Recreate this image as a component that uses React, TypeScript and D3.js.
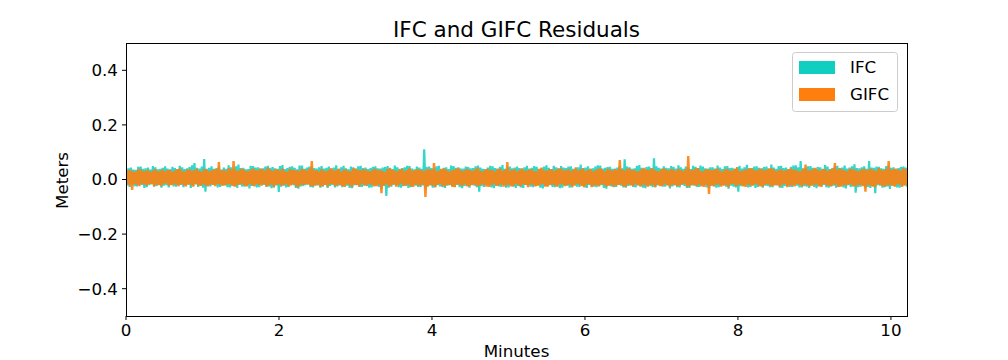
import React from "react";
import * as d3 from "d3";

// Residuals in millimetres, uniformly sampled across the record
const IFC_MM: number[] = [
  38,-22,41,-27,44,-18,36,-24,35,-25,46,-19,47,-20,39,-31,41,-28,44,-21,36,-17,49,-26,45,-24,37,-20,39,-30,43,-23,48,-21,40,-29,37,-19,46,-25,
  42,-26,38,-21,50,-20,45,-28,38,-23,41,-19,46,-31,52,-24,60,-18,43,-27,40,-22,47,-30,75,-45,39,-23,43,-25,48,-20,39,-20,42,-29,47,-27,36,-22,
  44,-21,39,-28,52,-29,45,-20,40,-24,48,-31,55,-19,42,-25,43,-26,37,-22,38,-33,50,-24,49,-22,44,-29,45,-28,40,-19,41,-20,47,-27,50,-25,43,-32,
  46,-30,41,-22,39,-46,49,-26,53,-23,38,-29,42,-27,46,-20,48,-21,43,-31,37,-34,51,-25,51,-24,39,-21,44,-19,47,-28,47,-29,42,-23,40,-22,45,-30,
  49,-26,40,-20,43,-31,47,-24,38,-20,44,-29,52,-25,39,-22,45,-28,50,-26,41,-23,37,-31,47,-32,45,-21,39,-21,48,-27,50,-27,42,-23,44,-24,38,-30,
  42,-29,46,-21,48,-22,41,-27,40,-35,44,-24,46,-60,49,-30,43,-26,38,-20,51,-21,45,-28,39,-30,42,-23,45,-24,50,-31,49,-28,40,-22,37,-23,47,-27,
  44,-27,39,-22,111,-33,46,-25,47,-22,42,-30,41,-29,48,-21,50,-25,37,-28,43,-31,45,-23,38,-21,51,-26,49,-26,43,-20,45,-28,40,-32,40,-24,47,-22,
  46,-30,41,-21,42,-23,48,-28,51,-45,44,-24,39,-27,38,-19,44,-22,50,-29,48,-32,42,-23,40,-25,46,-27,53,-20,39,-30,45,-29,47,-22,41,-26,44,-31,
  47,-24,42,-29,39,-31,45,-20,50,-22,40,-26,43,-28,49,-23,46,-20,38,-30,41,-33,47,-24,52,-25,43,-21,38,-27,50,-28,45,-21,41,-32,49,-30,44,-22,
  42,-23,47,-30,48,-29,39,-21,40,-26,45,-27,55,-22,42,-29,44,-31,48,-20,39,-24,41,-26,47,-28,52,-23,51,-21,40,-31,43,-34,46,-22,46,-25,39,-28,
  40,-27,44,-20,49,-23,41,-29,74,-30,47,-24,45,-22,39,-27,41,-29,50,-21,53,-25,43,-30,38,-32,46,-23,47,-24,42,-28,78,-28,48,-22,43,-21,40,-26,
  48,-26,43,-21,41,-33,49,-25,46,-22,40,-28,52,-29,45,-20,39,-24,47,-31,44,-31,38,-22,50,-23,46,-27,42,-27,51,-24,47,-20,41,-29,40,-30,45,-23,
  45,-25,40,-30,51,-28,44,-21,38,-22,48,-26,49,-34,42,-23,43,-26,39,-29,46,-45,50,-24,40,-23,45,-20,54,-29,41,-27,42,-21,47,-31,48,-27,43,-22,
  41,-30,46,-23,47,-24,40,-28,55,-28,44,-21,39,-22,49,-30,50,-31,42,-24,44,-25,38,-27,46,-27,51,-22,52,-23,45,-29,68,-29,41,-24,43,-26,48,-31,
  49,-21,43,-27,40,-32,46,-24,45,-24,39,-20,53,-28,47,-30,38,-25,42,-23,47,-30,50,-26,42,-22,44,-29,51,-33,40,-21,44,-27,48,-25,56,-48,42,-28,
  41,-26,45,-22,48,-29,39,-27,68,-31,44,-24,43,-50,47,-21,46,-23,41,-30,39,-28,49,-25,50,-35,43,-22,45,-24,38,-29,42,-30,46,-23,47,-22,44,-27,
];

const GIFC_MM: number[] = [
  30,-15,34,-22,33,-38,29,-17,28,-20,37,-24,36,-14,31,-19,31,-22,35,-16,27,-17,33,-25,38,-19,30,-21,32,-24,36,-15,29,-13,34,-23,35,-21,28,-18,
  33,-18,37,-24,40,-16,31,-21,29,-25,35,-18,37,-20,32,-26,34,-15,39,-22,31,-23,28,-17,39,-21,36,-25,30,-18,33,-20,36,-24,38,-16,64,-19,32,-23,
  35,-22,30,-18,42,-17,36,-24,68,-26,33,-20,32,-19,39,-15,38,-23,31,-25,30,-16,35,-21,41,-25,34,-17,33,-20,40,-23,37,-14,32,-26,44,-22,36,-19,
  31,-27,37,-20,36,-18,33,-23,40,-21,30,-16,29,-24,38,-22,35,-15,34,-25,33,-28,31,-19,39,-20,36,-17,32,-17,40,-24,68,-25,33,-21,34,-19,29,-26,
  38,-23,32,-19,30,-26,36,-17,42,-16,33,-24,34,-21,39,-20,29,-24,35,-26,37,-18,30,-22,31,-27,41,-18,40,-20,34,-25,33,-15,37,-21,36,-22,31,-17,
  30,-19,36,-25,39,-24,33,-18,35,-50,31,-22,28,-17,38,-26,41,-23,35,-16,32,-26,30,-21,37,-14,39,-24,30,-21,34,-19,43,-25,32,-27,34,-18,37,-22,
  36,-22,33,-18,31,-64,37,-25,38,-20,34,-23,60,-27,30,-19,33,-16,39,-24,40,-24,35,-20,29,-19,32,-26,35,-28,38,-17,42,-21,33,-23,31,-17,36,-25,
  37,-25,33,-20,32,-18,38,-24,43,-23,31,-17,30,-20,36,-26,39,-27,34,-21,34,-15,29,-23,38,-22,40,-18,31,-26,35,-22,64,-19,32,-25,35,-24,37,-16,
  29,-21,35,-24,41,-17,32,-20,33,-28,37,-18,36,-20,30,-25,30,-23,39,-21,44,-16,34,-26,32,-25,36,-19,38,-19,31,-22,35,-27,40,-17,40,-18,33,-24,
  34,-22,38,-18,30,-26,35,-23,45,-15,32,-20,37,-24,40,-27,31,-19,34,-16,39,-28,30,-22,33,-21,37,-25,42,-17,35,-20,29,-25,39,-23,36,-20,31,-26,
  38,-23,34,-20,71,-18,36,-25,32,-27,39,-17,40,-21,33,-24,35,-16,30,-22,31,-25,38,-19,43,-22,35,-26,34,-19,41,-21,37,-28,32,-18,30,-24,36,-23,
  41,-17,35,-22,33,-26,38,-19,36,-20,31,-24,39,-23,34,-17,31,-15,37,-26,86,-25,33,-20,35,-21,40,-23,42,-18,32,-25,30,-27,36,-19,37,-53,34,-22,
  34,-24,37,-18,40,-19,32,-26,29,-22,36,-20,38,-28,33,-17,33,-16,39,-24,44,-21,31,-19,31,-25,35,-27,36,-18,41,-22,41,-23,34,-16,32,-20,38,-25,
  39,-26,33,-19,35,-17,40,-23,42,-24,36,-21,30,-21,34,-27,37,-19,31,-16,33,-28,38,-22,40,-22,35,-25,36,-16,30,-20,31,-25,39,-18,55,-20,33,-24,
  34,-23,38,-20,43,-18,35,-25,32,-27,37,-16,38,-21,31,-23,35,-24,40,-19,60,-19,34,-27,41,-26,36,-21,33,-22,30,-18,39,-17,37,-24,36,-25,32,-20,
  31,-20,36,-24,40,-45,33,-19,37,-23,39,-26,34,-28,31,-17,42,-19,35,-25,33,-24,38,-21,68,-21,34,-23,38,-26,40,-18,35,-18,32,-27,41,-22,37,-20,
];

const DURATION_MIN = 10.21;
const X_TICKS = [0, 2, 4, 6, 8, 10];
const Y_TICKS = [-0.4, -0.2, 0.0, 0.2, 0.4];
const SERIES_NAMES = ["IFC", "GIFC"];
const TITLE = "IFC and GIFC Residuals";
const X_LABEL = "Minutes";
const Y_LABEL = "Meters";

const W = 1008;
const H = 360;
const M = { left: 126, right: 907, top: 43, bottom: 316 };
const COLORS = ["#10cfc0", "#ff7f0e"];
const FONT = "DejaVu Sans, sans-serif";

export default function App() {
  const x = d3.scaleLinear().domain([0, DURATION_MIN]).range([M.left, M.right]);
  const y = d3.scaleLinear().domain([-0.5, 0.5]).range([M.bottom, M.top]);

  const toPoints = (arr: number[]) =>
    arr.map((v, i) => [(i * DURATION_MIN) / (arr.length - 1), v / 1000] as [number, number]);

  const line = d3
    .line<[number, number]>()
    .x((d) => x(d[0]))
    .y((d) => y(d[1]));

  const fmtY = (v: number) => {
    const s = v.toFixed(1);
    return v < 0 ? "\u2212" + s.slice(1) : s;
  };

  return (
    <div style={{ position: "fixed", left: 0, top: 0, width: W, height: H }}>
      <svg width={W} height={H} style={{ display: "block", background: "#fff" }} fontFamily={FONT}>
        <defs>
          <clipPath id="plotclip">
            <rect x={M.left} y={M.top} width={M.right - M.left} height={M.bottom - M.top} />
          </clipPath>
        </defs>
        <g clipPath="url(#plotclip)">
          <path d={line(toPoints(IFC_MM)) || ""} fill="none" stroke={COLORS[0]} strokeWidth={2.2} strokeOpacity={0.85} strokeLinejoin="miter" />
          <path d={line(toPoints(GIFC_MM)) || ""} fill="none" stroke={COLORS[1]} strokeWidth={2.4} strokeOpacity={0.9} strokeLinejoin="miter" />
        </g>
        <rect x={M.left} y={M.top} width={M.right - M.left} height={M.bottom - M.top} fill="none" stroke="#000" strokeWidth={1} shapeRendering="crispEdges" />
        {X_TICKS.map((t) => (
          <g key={"x" + t}>
            <line x1={x(t)} x2={x(t)} y1={M.bottom} y2={M.bottom + 4} stroke="#000" strokeWidth={1} />
            <text x={x(t)} y={336} textAnchor="middle" fontSize={16.7} fill="#000">
              {t}
            </text>
          </g>
        ))}
        {Y_TICKS.map((t) => (
          <g key={"y" + t}>
            <line x1={M.left - 4} x2={M.left} y1={y(t)} y2={y(t)} stroke="#000" strokeWidth={1} />
            <text x={M.left - 8} y={y(t)} dy="0.35em" textAnchor="end" fontSize={16.7} fill="#000">
              {fmtY(t)}
            </text>
          </g>
        ))}
        <text x={(M.left + M.right) / 2} y={357} textAnchor="middle" fontSize={16.7} fill="#000">
          {X_LABEL}
        </text>
        <text transform={`translate(68, ${(M.top + M.bottom) / 2 + 1}) rotate(-90)`} textAnchor="middle" fontSize={16.7} fill="#000">
          {Y_LABEL}
        </text>
        <text x={(M.left + M.right) / 2} y={37} textAnchor="middle" fontSize={21.5} fill="#000">
          {TITLE}
        </text>
        <g>
          <rect x={792.5} y={52.5} width={105} height={59} rx={3} fill="#fff" fillOpacity={0.8} stroke="#cccccc" strokeWidth={1} />
          {SERIES_NAMES.map((name, i) => (
            <g key={name}>
              <rect x={799} y={61 + i * 27} width={36} height={13} fill={COLORS[i]} />
              <text x={850} y={73 + i * 27} fontSize={16.7} fill="#000">
                {name}
              </text>
            </g>
          ))}
        </g>
      </svg>
    </div>
  );
}
